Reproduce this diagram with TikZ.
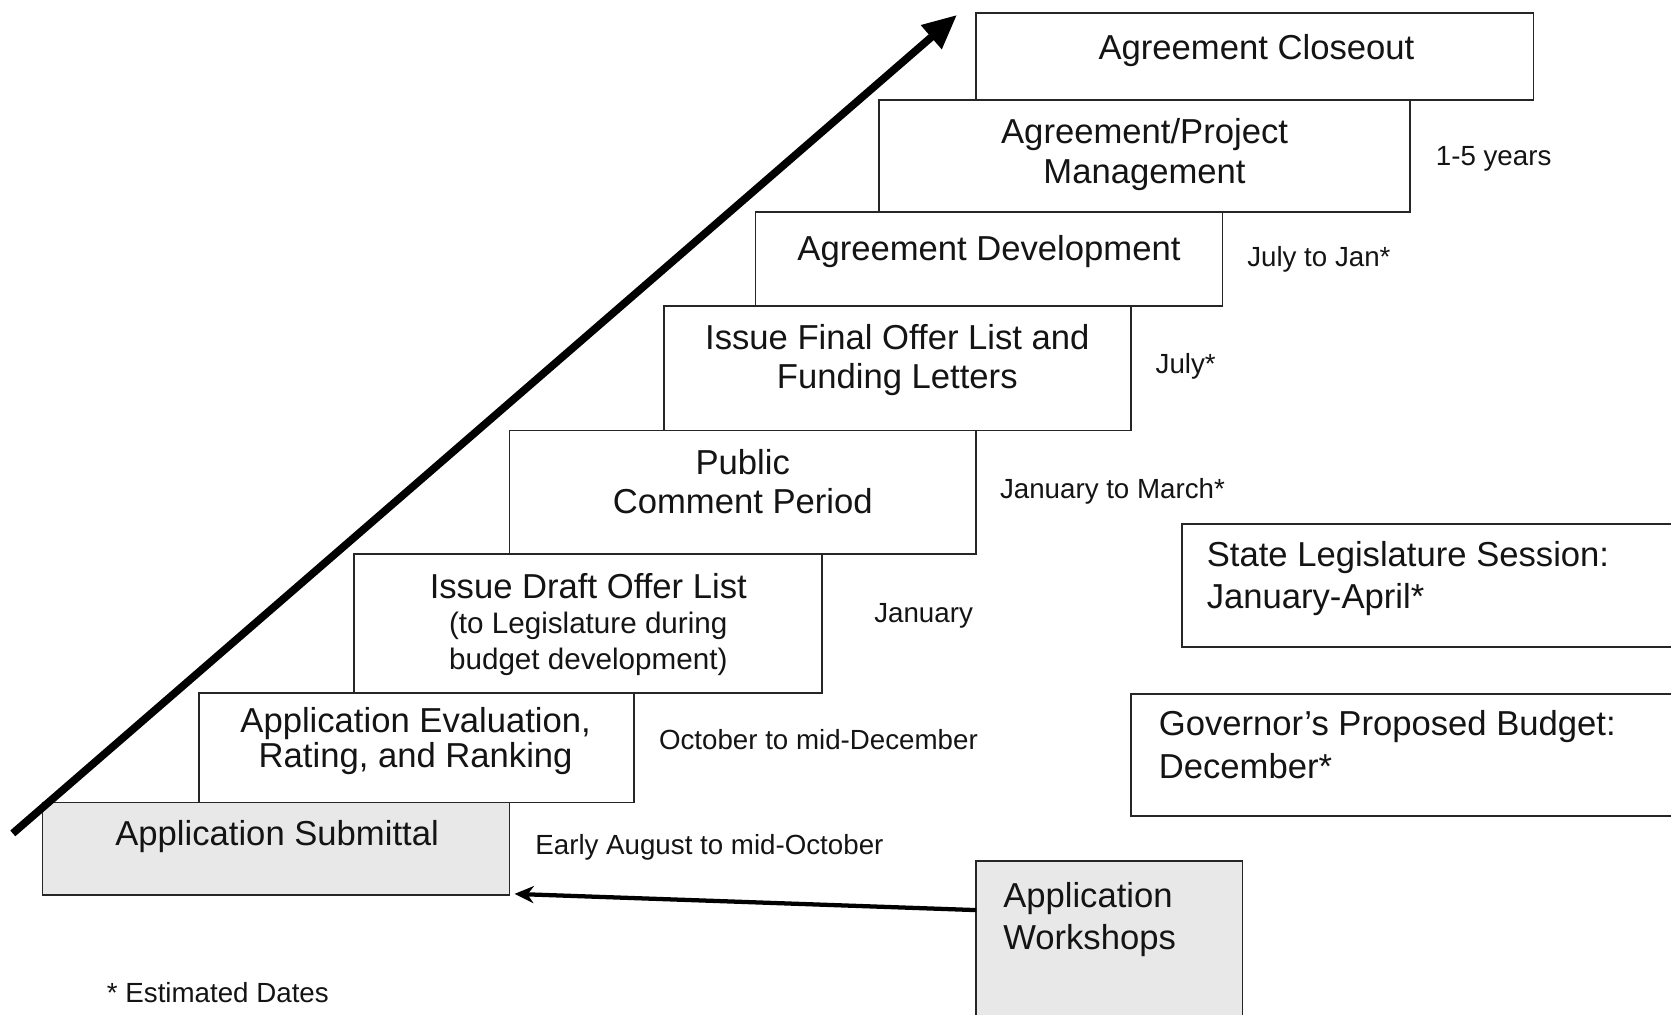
\documentclass[tikz,border=0pt]{standalone}
\usepackage{fontspec}
\setmainfont{Liberation Sans}
\usetikzlibrary{arrows.meta,fit}
\newcommand\smlfont{\fontsize{13.9}{16.5}\selectfont}
\begin{document}
\begin{tikzpicture}[x=0.5pt,y=-0.5pt,
  box/.style={draw=black!85, line width=0.8pt, fill=white, inner sep=0pt},
  gbox/.style={box, fill=black!9},
  big/.style={font=\fontsize{16.25}{18.5}\selectfont, align=center, inner sep=0pt, text=black!92},
  bigl/.style={font=\fontsize{16.25}{20}\selectfont, align=left, inner sep=0pt, text=black!92, anchor=west},
  lbl/.style={font=\fontsize{13}{15}\selectfont, inner sep=0pt, anchor=west, text=black!92},
  bigarrow/.style={line width=3.6pt, -{Triangle[length=16pt,width=14pt]}},
  smallarrow/.style={line width=2pt, -{Stealth[length=9pt,width=8pt]}}
]
\clip (0,0) rectangle (1568,952);
\fill[white] (0,0) rectangle (1568,952);

% staircase boxes
\node[box, fit={(916,12) (1439,94)}] (b8) {};
\node[box, fit={(825,94) (1323,199)}] (b7) {};
\node[box, fit={(709,199) (1147,287)}] (b6) {};
\node[box, fit={(623,287) (1061,404)}] (b5) {};
\node[box, fit={(478,404) (916,520)}] (b4) {};
\node[box, fit={(332,520) (771,650)}] (b3) {};
\node[box, fit={(187,650) (595,753)}] (b2) {};
\node[gbox, fit={(40,753) (478,840)}] (b1) {};

% side boxes
\node[box, fit={(1109,492) (1600,607)}] (leg) {};
\node[box, fit={(1061,651) (1600,766)}] (gov) {};
\node[gbox, fit={(916,808) (1166,970)}] (ws) {};

% box texts
\node[big] (t8) at (1179,47) {Agreement Closeout};
\node[big] (t7) at (1074,145) {Agreement/Project\\Management};
\node[big] (t6) at (928,236) {Agreement Development};
\node[big] (t5) at (842,338) {Issue Final Offer List and\\Funding Letters};
\node[big] (t4) at (697,452) {Public\\Comment Period};
\node[big, font=\fontsize{16.25}{16.5}\selectfont] (t3) at (552,586) {Issue Draft Offer List\\{\smlfont (to Legislature during}\\{\smlfont budget development)}};
\node[big, font=\fontsize{16.25}{16.5}\selectfont] (t2) at (390,695) {Application Evaluation,\\Rating, and Ranking};
\node[big] (t1) at (260,785) {Application Submittal};

\node[bigl] (tleg) at (1132,543) {State Legislature Session:\\January-April*};
\node[bigl] (tgov) at (1087,699) {Governor’s Proposed Budget:\\December*};
\node[bigl] (tws) at (941,863) {Application\\Workshops};

% date labels
\node[lbl] (l7) at (1347,149) {1-5 years};
\node[lbl] (l6) at (1170,243) {July to Jan*};
\node[lbl] (l5) at (1084,344) {July*};
\node[lbl] (l4) at (938,461) {January to March*};
\node[lbl] (l3) at (820,578) {January};
\node[lbl] (l2) at (618,694) {October to mid-December};
\node[lbl] (l1) at (502,795) {Early August to mid-October};
\node[lbl] (note) at (100,931) {* Estimated Dates};

% connectors
\coordinate (arrstart) at (12,782);
\coordinate (arrend) at (898,14);
\draw[bigarrow] (arrstart) -- (arrend);
\coordinate (wsa) at (916,854);
\draw[smallarrow] (wsa) -- ([xshift=2pt,yshift=1pt]b1.south east);
\end{tikzpicture}
\end{document}
